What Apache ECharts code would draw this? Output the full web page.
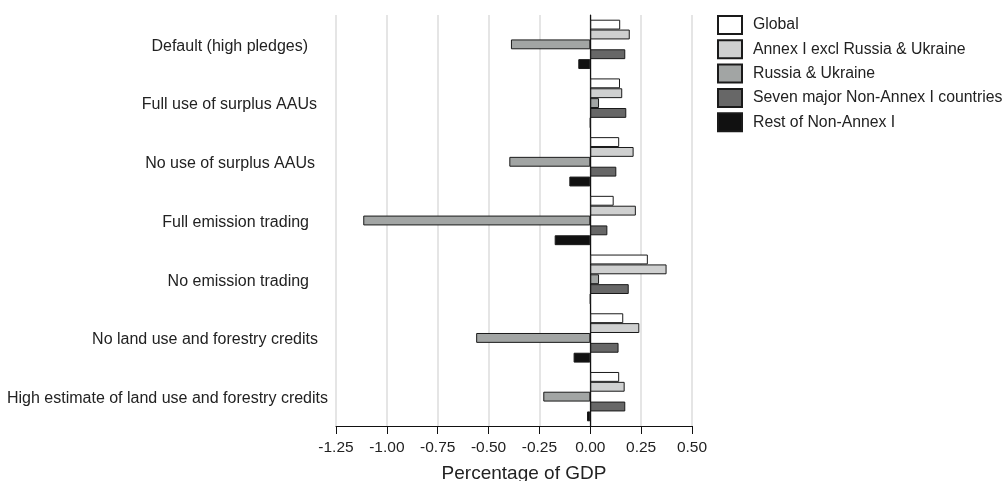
<!DOCTYPE html>
<html>
<head>
<meta charset="utf-8">
<script src="https://cdn.jsdelivr.net/npm/echarts@6/dist/echarts.min.js"></script>
<style>
  html, body { margin: 0; padding: 0; background: #fff; }
  #chart { width: 1004px; height: 481px; }
</style>
</head>
<body>
<div id="chart"></div>
<script>
// scenarios, top to bottom
const categories = [
  'Default (high pledges)',
  'Full use of surplus AAUs',
  'No use of surplus AAUs',
  'Full emission trading',
  'No emission trading',
  'No land use and forestry credits',
  'High estimate of land use and forestry credits'
];
const seriesNames = [
  'Global',
  'Annex I excl Russia & Ukraine',
  'Russia & Ukraine',
  'Seven major Non-Annex I countries',
  'Rest of Non-Annex I'
];
const globalVals = [0.147, 0.146, 0.142, 0.115, 0.283, 0.162, 0.142];
const annexVals  = [0.194, 0.157, 0.213, 0.224, 0.375, 0.241, 0.169];
const russiaVals = [-0.390, 0.043, -0.398, -1.116, 0.043, -0.561, -0.231];
const sevenVals  = [0.172, 0.177, 0.128, 0.084, 0.189, 0.139, 0.172];
const restVals   = [-0.059, 0, -0.103, -0.175, 0, -0.082, -0.016];
const xTickMin = -1.25, xTickMax = 0.5, xTickStep = 0.25;

const fills = ['#ffffff', '#cfd0d0', '#a2a5a4', '#676767', '#111111'];
const values = [globalVals, annexVals, russiaVals, sevenVals, restVals];
// the source labels are not evenly aligned
const labelPad = [20, 11, 13, 19, 19, 10, 0];

let rich = {};
labelPad.forEach((p, i) => {
  rich['l' + i] = { padding: [4, p, 0, 0], fontSize: 16, color: '#222', fontFamily: 'Liberation Sans' };
});

let chart = echarts.init(document.getElementById('chart'));
chart.setOption({
  animation: false,
  textStyle: { fontFamily: 'Liberation Sans' },
  grid: { left: 336, right: 312, top: 15, bottom: 55, outerBoundsMode: 'none', containLabel: false },
  legend: {
    orient: 'vertical',
    left: 717, top: 15,
    padding: 0,
    itemWidth: 24, itemHeight: 18, itemGap: 4.3,
    icon: 'rect',
    textStyle: { fontSize: 15.8, color: '#222', padding: [0, 0, 0, 6] },
    data: seriesNames
  },
  xAxis: {
    type: 'value',
    min: xTickMin, max: xTickMax, interval: xTickStep,
    name: 'Percentage of GDP',
    nameLocation: 'middle',
    nameGap: 38,
    nameTextStyle: { fontSize: 19, color: '#222', padding: [0, 0, 0, 20] },
    axisLine: { show: true, onZero: false, lineStyle: { color: '#111', width: 1 } },
    axisTick: { show: true, length: 8, lineStyle: { color: '#111' } },
    axisLabel: { fontSize: 15.5, color: '#222', margin: 14, formatter: v => v.toFixed(2) },
    splitLine: { show: true, lineStyle: { color: '#dcdcdc', width: 1.5 } }
  },
  yAxis: {
    type: 'category',
    inverse: true,
    data: categories,
    axisLine: { show: true, onZero: true, lineStyle: { color: '#111', width: 1.2 } },
    axisTick: { show: false },
    axisLabel: {
      margin: 8,
      formatter: (v, i) => '{l' + i + '|' + v + '}',
      rich: rich
    },
    splitLine: { show: false }
  },
  series: seriesNames.map((n, i) => ({
    name: n,
    type: 'bar',
    data: values[i],
    barGap: '0%',
    barCategoryGap: '16%',
    itemStyle: { color: fills[i], borderColor: '#1a1a1a', borderWidth: 1 }
  }))
});
</script>
</body>
</html>
